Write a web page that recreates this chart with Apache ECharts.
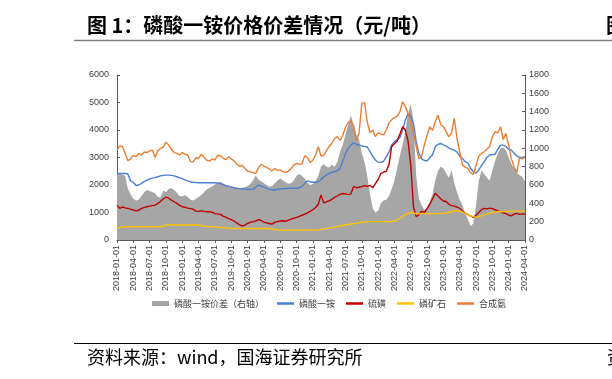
<!DOCTYPE html>
<html><head><meta charset="utf-8">
<script src="https://cdn.jsdelivr.net/npm/echarts@6/dist/echarts.min.js"></script>
<style>html,body{margin:0;padding:0;background:#fff;}#c{width:612px;height:379px;}</style>
</head><body><div id="c"></div>
<script>
// Quarter tick labels (x axis, one per 3 months)
const tickLabels = ['2018-01-01','2018-04-01','2018-07-01','2018-10-01','2019-01-01','2019-04-01','2019-07-01','2019-10-01','2020-01-01','2020-04-01','2020-07-01','2020-10-01','2021-01-01','2021-04-01','2021-07-01','2021-10-01','2022-01-01','2022-04-01','2022-07-01','2022-10-01','2023-01-01','2023-04-01','2023-07-01','2023-10-01','2024-01-01','2024-04-01'];
const seriesNames = ['磷酸一铵价差（右轴）','磷酸一铵','硫磺','磷矿石','合成氨'];
// half-month samples starting 2018-01 (right axis)
const spread = [710,720,715,700,560,500, 450,430,440,480,520,545, 535,525,510,470,465,540, 520,560,565,545,515,480,
 475,490,470,440,430,450, 470,490,520,550,570,585, 605,630,636,615,600,595, 582,575,565,560,570,575,
 590,610,650,705,660,640, 620,600,580,590,620,650, 670,650,630,615,620,650, 700,720,700,670,625,600,
 610,640,700,800,830,800, 790,820,800,850,960,1040, 1150,1260,1360,1250,1150,1090, 950,850,700,500,350,300,
 320,400,430,440,480,560, 650,780,920,1040,1180,1380, 1480,1300,700,450,380,330, 340,420,500,650,750,800,
 780,730,680,760,620,520, 440,380,290,230,150,180, 380,640,760,720,680,650, 760,860,940,1000,1010,980,
 900,830,780,730,710,690, 640];
// half-month samples (left axis)
const map = [2420,2420,2420,2420,2400,2150, 2100,1980,2000,2060,2120,2180, 2220,2250,2270,2300,2330,2350, 2360,2360,2350,2330,2300,2260,
 2230,2190,2150,2120,2100,2090, 2080,2080,2080,2080,2080,2080, 2080,2070,2050,2020,1980,1950, 1930,1900,1880,1870,1860,1850,
 1840,1840,1850,1920,2000,1960, 1920,1880,1840,1820,1820,1840, 1860,1870,1870,1880,1880,1880, 1880,1900,1950,2050,2150,2120,
 2100,2100,2120,2200,2300,2360, 2420,2460,2480,2520,2600,2850, 3150,3330,3450,3540,3480,3450, 3420,3400,3390,3210,3050,2910,
 2830,2820,2860,3030,3200,3450, 3580,3650,3720,4000,4350,4600, 4500,4240,3570,3150,2950,2890, 2880,2990,3100,3390,3480,3510,
 3460,3420,3350,3300,3270,3200, 3050,2970,2850,2790,2600,2480, 2430,2550,2700,2850,3000,3090, 3110,3120,3300,3450,3450,3400,
 3300,3270,3150,3060,3000,3000, 3030];
const sulfur = [1270,1150,1200,1170,1150,1120, 1090,1060,1080,1150,1180,1210, 1230,1250,1270,1330,1400,1500, 1560,1520,1450,1390,1330,1260,
 1210,1190,1160,1140,1120,1050, 1040,1060,1040,1030,1030,1010, 960,950,930,870,830,780, 740,690,620,560,510,540,
 600,640,670,690,740,710, 650,620,600,580,640,670, 690,700,680,720,760,790, 820,860,900,945,990,1040,
 1100,1180,1300,1640,1350,1390, 1420,1480,1550,1600,1660,1690, 1680,1650,1680,1950,1900,1920, 1940,1980,1950,1990,1900,2050,
 2200,2420,2470,2500,2750,3400, 3500,3600,3850,4120,4000,3600, 2700,1200,850,920,1050,1000, 1150,1300,1500,1700,1600,1500,
 1420,1400,1300,1250,1230,1200, 1150,1050,980,920,880,820, 900,1000,1100,1150,1130,1160, 1140,1100,1060,1020,980,960,
 900,880,940,970,930,950, 940];
const ammonia = [3270,3420,3400,3150,2880,2950, 3080,3020,3150,3090,3200,3180, 3240,3270,3000,3250,3330,3380, 3560,3450,3300,3180,3150,3090,
 3180,3120,3090,2850,2830,3000, 2970,3120,3000,2900,2870,2940, 2910,3080,3070,2980,2920,3030, 2950,2880,2760,2680,2720,2610,
 2500,2480,2450,2420,2620,2750, 2690,2640,2580,2510,2600,2530, 2550,2480,2460,2500,2600,2720, 2780,2760,2760,3060,3000,2820,
 2900,3100,3390,3050,3080,3250, 3400,3520,3700,3760,3620,3800, 4100,4280,4330,4150,3600,3900, 4970,5000,4300,3900,4000,3760,
 3900,3850,3820,4000,4250,4380, 4450,4500,4670,5030,4850,4600, 4250,3880,3400,2950,3050,3450, 3800,4120,3980,4300,4540,4200,
 4120,3950,3750,3900,4420,3700, 3200,2730,2650,2600,2450,2380, 2700,3050,3150,3200,3300,3400, 3760,3940,3900,4120,3650,3880,
 3450,2950,2650,2450,3000,2950, 3000];
// monthly samples (left axis)
const rock = [420,480,480,480,480,480, 480,480,480,545,545,545, 545,545,545,545,500,480, 480,460,440,420,420,420,
 420,420,420,420,420,380, 360,360,360,360,360,360, 360,370,400,430,470,510, 545,580,610,650,670,670,
 670,670,670,680,790,920, 1000,960,960,960,960,960, 970,1000,1060,1060,970,880, 820,880,950,1000,1030,1030,
 1040,1050,1050,1060];

const colors = ['#a6a6a6','#4a7fd4','#c00000','#ffc000','#ed7d31'];
const toPairs = (arr, step) => arr.map((v, i) => [i * step, v]);

const chart = echarts.init(document.getElementById('c'));
const axisCol = '#595959';
const labelFont = 'Liberation Sans, Arial, sans-serif';
const cjk = '"Noto Sans CJK SC", sans-serif';
const lineSeries = (idx, arr, step) => ({
  name: seriesNames[idx], type: 'line', yAxisIndex: 0, data: toPairs(arr, step),
  symbol: 'none', smooth: false, lineStyle: { width: 1.4, color: colors[idx] },
  itemStyle: { color: colors[idx] }
});
chart.setOption({
  animation: false,
  backgroundColor: '#ffffff',
  grid: { left: 117, right: 87, top: 75, bottom: 139 },
  xAxis: {
    type: 'value', min: 0, max: 75, interval: 3,
    axisLine: { lineStyle: { color: axisCol, width: 1 } },
    axisTick: { show: true, length: 3, lineStyle: { color: axisCol } },
    splitLine: { show: false },
    axisLabel: { rotate: 90, fontSize: 9, color: '#404040', fontFamily: labelFont, margin: 5,
      formatter: v => tickLabels[Math.round(v / 3)] }
  },
  yAxis: [
    { type: 'value', min: 0, max: 6000, interval: 1000, position: 'left',
      axisLine: { show: true, lineStyle: { color: axisCol } },
      axisTick: { show: true, inside: true, length: 3, lineStyle: { color: axisCol } },
      splitLine: { show: false },
      axisLabel: { fontSize: 9, color: '#404040', fontFamily: labelFont, margin: 8, formatter: v => String(v) } },
    { type: 'value', min: 0, max: 1800, interval: 200, position: 'right',
      axisLine: { show: true, lineStyle: { color: axisCol } },
      axisTick: { show: true, inside: true, length: 3, lineStyle: { color: axisCol } },
      splitLine: { show: false },
      axisLabel: { fontSize: 9, color: '#404040', fontFamily: labelFont, margin: 4, formatter: v => String(v) } }
  ],
  legend: [
    { data: [{ name: seriesNames[0], icon: 'rect' }], left: 152, top: 299, padding: 0, itemWidth: 17, itemHeight: 5,
      textStyle: { fontSize: 9, color: '#404040', fontFamily: cjk } },
    { data: seriesNames.slice(1).map(n => ({ name: n, icon: 'rect' })), left: 277, top: 299, padding: 0,
      itemWidth: 17, itemHeight: 2.5, itemGap: 11,
      textStyle: { fontSize: 9, color: '#404040', fontFamily: cjk } }
  ],
  series: [
    { name: seriesNames[0], type: 'line', yAxisIndex: 1, data: toPairs(spread, 0.5), symbol: 'none',
      lineStyle: { width: 0 }, areaStyle: { color: colors[0], opacity: 1 }, itemStyle: { color: colors[0] } },
    lineSeries(1, map, 0.5),
    lineSeries(2, sulfur, 0.5),
    lineSeries(3, rock, 1),
    lineSeries(4, ammonia, 0.5)
  ],
  graphic: [
    { type: 'text', left: 87, top: 15, style: { text: '图 1：磷酸一铵价格价差情况（元/吨）', font: 'bold 20px ' + cjk, fill: '#000' } },
    { type: 'text', left: 606, top: 15, style: { text: '图', font: 'bold 20px ' + cjk, fill: '#000' } },
    { type: 'line', shape: { x1: 74, y1: 40.5, x2: 612, y2: 40.5 }, style: { stroke: '#7f7f7f', lineWidth: 1.5 } },
    { type: 'line', shape: { x1: 74, y1: 343.5, x2: 612, y2: 343.5 }, style: { stroke: '#000', lineWidth: 1 } },
    { type: 'text', left: 87, top: 348, style: { text: '资料来源：wind，国海证券研究所', font: '18px ' + cjk, fill: '#000' } },
    { type: 'text', left: 607, top: 348, style: { text: '资', font: '18px ' + cjk, fill: '#000' } }
  ]
});
</script></body></html>
